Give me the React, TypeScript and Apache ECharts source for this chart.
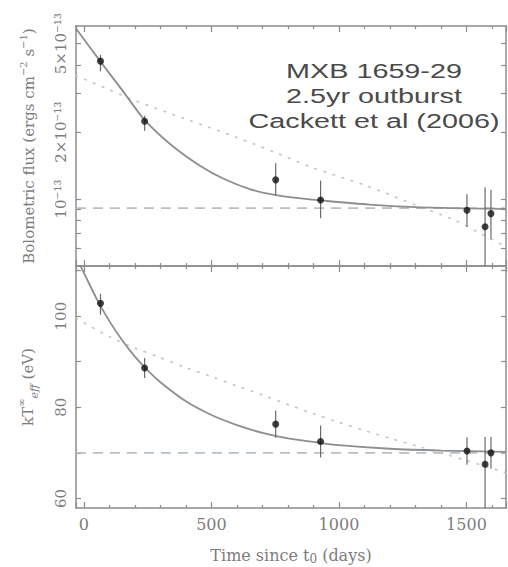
import React, { useEffect, useRef } from 'react';
import * as echarts from 'echarts';

// ---- data ----
const X_MIN = -31;
const X_MAX = 1655;

const obsDays = [65, 238, 752, 928, 1502, 1573, 1596];
// bolometric flux in units of 1e-13 erg cm^-2 s^-1
const flux = [4.17, 2.24, 1.22, 0.99, 0.89, 0.75, 0.86];
const fluxLow = [3.75, 2.03, 1.04, 0.82, 0.75, 0.45, 0.66];
const fluxHigh = [4.45, 2.37, 1.45, 1.21, 1.05, 1.13, 1.1];
// effective temperature (eV)
const kT = [102.8, 88.6, 76.3, 72.5, 70.4, 67.5, 70.0];
const kTLow = [100.3, 86.4, 73.3, 69.0, 67.4, 57.0, 66.5];
const kTHigh = [104.9, 90.8, 79.3, 76.0, 73.4, 73.5, 73.5];

// exponential-decay fit (solid)
const fitFluxDays = [-31, 65, 150, 238, 340, 455, 550, 650, 752, 850, 928, 1120, 1300, 1500, 1655];
const fitFlux = [5.85, 4.15, 3.09, 2.27, 1.76, 1.413, 1.23, 1.109, 1.042, 1.007, 0.986, 0.944, 0.92, 0.908, 0.904];
const fitKTDays = [-31, 0, 50, 100, 150, 200, 250, 300, 400, 500, 600, 700, 800, 900, 1000, 1200, 1400, 1655];
const fitKT = [113, 109.5, 103.8, 98.9, 94.7, 91.1, 88.1, 85.5, 81.3, 78.3, 76.1, 74.4, 73.2, 72.4, 71.7, 70.9, 70.5, 70.2];

// alternative model (dotted)
const altFluxDays = [-31, 100, 200, 400, 600, 750, 900, 1100, 1300, 1450, 1550, 1655];
const altFlux = [3.59, 3.1, 2.77, 2.29, 1.89, 1.62, 1.38, 1.157, 0.94, 0.807, 0.706, 0.611];
const altKTDays = [-31, 100, 200, 300, 400, 500, 600, 700, 800, 900, 1000, 1100, 1200, 1300, 1400, 1500, 1600, 1655];
const altKT = [99.5, 95.5, 93.0, 90.9, 88.7, 86.7, 84.7, 82.7, 80.6, 78.6, 76.7, 74.9, 73.2, 71.6, 70.0, 68.3, 66.6, 65.6];

// baseline levels (dashed)
const baseFlux = 0.91;
const baseKT = 70;

// axis ranges and ticks
const FLUX_MIN = 0.5;
const FLUX_MAX = 6;
const fluxTickMantissas = [0.6, 0.7, 0.8, 0.9, 1, 2, 3, 4, 5];
const fluxLabelMantissas = [1, 2, 5];
const fluxLabelTexts = ['10⁻¹³', '2×10⁻¹³', '5×10⁻¹³'];
const KT_MIN = 57.9;
const KT_MAX = 111;
const kTTicks = [60, 70, 80, 90, 100, 110];
const kTLabels = [60, 80, 100];

const titleLines = ['MXB 1659-29', '2.5yr outburst', 'Cackett et al (2006)'];

const lg = (m: number) => Math.log10(m * 1e-13);

const AXIS = '#8c8c8c';
const TXT = '#7c7c7c';
const SERIF = '"DejaVu Serif", serif';

export default function App() {
  const ref = useRef<HTMLDivElement>(null);
  useEffect(() => {
    if (!ref.current) return;
    const chart = echarts.init(ref.current, null, { renderer: 'svg' });

    const xAxis = (gridIndex: number, position: string, showLabels: boolean) => ({
      type: 'value',
      gridIndex,
      position,
      min: X_MIN,
      max: X_MAX,
      splitNumber: 3,
      axisLine: { show: true, onZero: false, lineStyle: { color: AXIS, width: 1.5 } },
      axisTick: { show: true, inside: true, length: 6, lineStyle: { color: AXIS, width: 1.2 } },
      minorTick: { show: true, splitNumber: 5, length: 3, lineStyle: { color: AXIS, width: 1.2 } },
      splitLine: { show: false },
      axisLabel: {
        show: showLabels,
        showMinLabel: false,
        showMaxLabel: false,
        margin: 8,
        fontFamily: SERIF,
        fontSize: 16,
        color: TXT,
        formatter: (v: number) => String(v),
      },
      ...(showLabels
        ? {
            name: '{b|Time since t}{sub|0}{b| (days)}',
            nameLocation: 'middle',
            nameGap: 37,
            nameTextStyle: {
              rich: {
                b: { fontFamily: SERIF, fontSize: 16, color: TXT, lineHeight: 20 },
                sub: { fontFamily: SERIF, fontSize: 12, color: TXT, lineHeight: 13, verticalAlign: 'bottom' },
              },
            },
          }
        : {}),
    });

    const fluxYAxis = (position: string, showLabels: boolean) => ({
      type: 'value',
      gridIndex: 0,
      position,
      min: lg(FLUX_MIN),
      max: lg(FLUX_MAX),
      axisLine: { show: true, onZero: false, lineStyle: { color: AXIS, width: 1.5 } },
      axisTick: {
        show: true,
        inside: true,
        length: 5,
        customValues: fluxTickMantissas.map(lg),
        lineStyle: { color: AXIS, width: 1.2 },
      },
      splitLine: { show: false },
      axisLabel: {
        show: showLabels,
        customValues: fluxLabelMantissas.map(lg),
        rotate: 90,
        margin: 8,
        fontFamily: SERIF,
        fontSize: 15,
        color: TXT,
        formatter: (v: number) => {
          const m = Math.pow(10, v + 13);
          let best = 0;
          fluxLabelMantissas.forEach((lm, i) => {
            if (Math.abs(lm - m) < Math.abs(fluxLabelMantissas[best] - m)) best = i;
          });
          return fluxLabelTexts[best];
        },
      },
      ...(showLabels
        ? {
            name: '{b|Bolometric flux (ergs cm}{s|−2}{b| s}{s|−1}{b|)}',
            nameLocation: 'middle',
            nameRotate: 90,
            nameGap: 36,
            nameTextStyle: {
              rich: {
                b: { fontFamily: SERIF, fontSize: 15, color: TXT, lineHeight: 22 },
                s: { fontFamily: SERIF, fontSize: 10, color: TXT, lineHeight: 10, verticalAlign: 'top' },
              },
            },
          }
        : {}),
    });

    const kTYAxis = (position: string, showLabels: boolean) => ({
      type: 'value',
      gridIndex: 1,
      position,
      min: KT_MIN,
      max: KT_MAX,
      axisLine: { show: true, onZero: false, lineStyle: { color: AXIS, width: 1.5 } },
      axisTick: {
        show: true,
        inside: true,
        length: 5,
        customValues: kTTicks,
        lineStyle: { color: AXIS, width: 1.2 },
      },
      splitLine: { show: false },
      axisLabel: {
        show: showLabels,
        customValues: kTLabels,
        rotate: 90,
        margin: 8,
        fontFamily: SERIF,
        fontSize: 15,
        color: TXT,
      },
      ...(showLabels
        ? {
            name: '{b|kT}{sup|∞}{sub|eff}{b| (eV)}',
            nameLocation: 'middle',
            nameRotate: 90,
            nameGap: 36,
            nameTextStyle: {
              rich: {
                b: { fontFamily: SERIF, fontSize: 15, color: TXT, lineHeight: 24 },
                sup: { fontFamily: SERIF, fontSize: 10, color: TXT, lineHeight: 10, verticalAlign: 'top' },
                sub: { fontFamily: SERIF, fontSize: 11, fontStyle: 'italic', color: TXT, lineHeight: 10, verticalAlign: 'bottom' },
              },
            },
          }
        : {}),
    });

    const errorBars = (xi: number, yi: number, data: number[][]) => ({
      type: 'custom',
      xAxisIndex: xi,
      yAxisIndex: yi,
      data,
      silent: true,
      z: 3,
      renderItem: (params: any, api: any) => {
        const p1 = api.coord([api.value(0), api.value(1)]);
        const p2 = api.coord([api.value(0), api.value(2)]);
        const cs = params.coordSys;
        const clamp = (y: number) => Math.min(Math.max(y, cs.y), cs.y + cs.height);
        return {
          type: 'line',
          shape: { x1: p1[0], y1: clamp(p1[1]), x2: p2[0], y2: clamp(p2[1]) },
          style: { stroke: '#6a6a6a', lineWidth: 1.2 },
        };
      },
    });

    const solid = { color: '#8e8e8e', width: 1.8 };
    const dotted = { color: '#c2c2c2', width: 1.6, type: [1.5, 8], cap: 'round' };
    const dashed = { color: '#b5c0c8', width: 1.6, type: [10, 7] };

    const curve = (xi: number, yi: number, data: number[][], style: any, z: number) => ({
      type: 'line',
      xAxisIndex: xi,
      yAxisIndex: yi,
      showSymbol: false,
      silent: true,
      smooth: 0.3,
      data,
      lineStyle: style,
      z,
    });

    const option: any = {
      animation: false,
      backgroundColor: '#ffffff',
      grid: [
        { left: 76, top: 26, width: 430, height: 240, containLabel: false, outerBoundsMode: 'none' },
        { left: 76, top: 266, width: 430, height: 242, containLabel: false, outerBoundsMode: 'none' },
      ],
      xAxis: [xAxis(0, 'bottom', false), xAxis(0, 'top', false), xAxis(1, 'bottom', true), xAxis(1, 'top', false)],
      yAxis: [fluxYAxis('left', true), fluxYAxis('right', false), kTYAxis('left', true), kTYAxis('right', false)],
      graphic: titleLines.map((t, i) => ({
        type: 'text',
        x: 374,
        y: 70 + i * 25,
        scaleX: 1.37,
        style: {
          text: t,
          font: '21px "Liberation Sans", Arial, sans-serif',
          fill: '#4a4a4a',
          textAlign: 'center',
          textVerticalAlign: 'middle',
          align: 'center',
          verticalAlign: 'middle',
        },
      })),
      series: [
        // top panel
        curve(0, 0, [[X_MIN, lg(baseFlux)], [X_MAX, lg(baseFlux)]], dashed, 1),
        curve(0, 0, altFluxDays.map((d, i) => [d, lg(altFlux[i])]), dotted, 1),
        curve(0, 0, fitFluxDays.map((d, i) => [d, lg(fitFlux[i])]), solid, 2),
        errorBars(0, 0, obsDays.map((d, i) => [d, lg(fluxLow[i]), lg(fluxHigh[i])])),
        {
          type: 'scatter', xAxisIndex: 0, yAxisIndex: 0, symbolSize: 7, silent: true, z: 4,
          itemStyle: { color: '#111' },
          data: obsDays.map((d, i) => [d, lg(flux[i])]),
        },
        // bottom panel
        curve(2, 2, [[X_MIN, baseKT], [X_MAX, baseKT]], dashed, 1),
        curve(2, 2, altKTDays.map((d, i) => [d, altKT[i]]), dotted, 1),
        curve(2, 2, fitKTDays.map((d, i) => [d, fitKT[i]]), solid, 2),
        errorBars(2, 2, obsDays.map((d, i) => [d, kTLow[i], kTHigh[i]])),
        {
          type: 'scatter', xAxisIndex: 2, yAxisIndex: 2, symbolSize: 7, silent: true, z: 4,
          itemStyle: { color: '#111' },
          data: obsDays.map((d, i) => [d, kT[i]]),
        },
      ],
    };

    chart.setOption(option);
    return () => chart.dispose();
  }, []);

  return (
    <div
      ref={ref}
      style={{ position: 'absolute', left: 0, top: 0, width: 508, height: 567, background: '#fff' }}
    />
  );
}
